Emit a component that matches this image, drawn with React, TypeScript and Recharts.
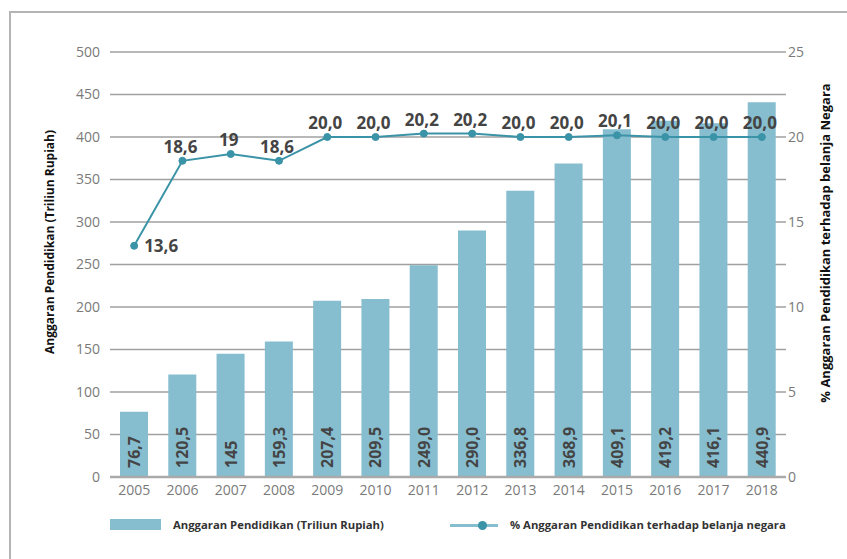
import { Bar, CartesianGrid, ComposedChart, LabelList, Line, XAxis, YAxis } from "recharts";

const years = ["2005", "2006", "2007", "2008", "2009", "2010", "2011", "2012", "2013", "2014", "2015", "2016", "2017", "2018"];
const budget = [76.7, 120.5, 145, 159.3, 207.4, 209.5, 249.0, 290.0, 336.8, 368.9, 409.1, 419.2, 416.1, 440.9];
const budgetLabels = ["76,7", "120,5", "145", "159,3", "207,4", "209,5", "249,0", "290,0", "336,8", "368,9", "409,1", "419,2", "416,1", "440,9"];
const share = [13.6, 18.6, 19, 18.6, 20.0, 20.0, 20.2, 20.2, 20.0, 20.0, 20.1, 20.0, 20.0, 20.0];
const shareLabels = ["13,6", "18,6", "19", "18,6", "20,0", "20,0", "20,2", "20,2", "20,0", "20,0", "20,1", "20,0", "20,0", "20,0"];
const leftTicks = [0, 50, 100, 150, 200, 250, 300, 350, 400, 450, 500];
const rightTicks = [0, 5, 10, 15, 20, 25];

const barName = "Anggaran Pendidikan (Triliun Rupiah)";
const lineName = "% Anggaran Pendidikan terhadap belanja negara";
const leftTitle = "Anggaran Pendidikan (Triliun Rupiah)";
const rightTitle = "% Anggaran Pendidikan terhadap belanja Negara";

const data = years.map((year, i) => ({ year, budget: budget[i], share: share[i] }));

const FONT = "'Open Sans', 'Noto Sans', sans-serif";
const BAR = "#86bdcf";
const LINE = "#3a93a7";
const tick = { fill: "#7a7a7a", fontSize: 14, fontFamily: FONT };

const BarValue = (props: any) => {
  const { x, y, width, height, index } = props;
  const cx = x + width / 2;
  const by = y + height - 9;
  return (
    <text
      x={cx}
      y={by}
      transform={`rotate(-90 ${cx} ${by})`}
      dominantBaseline="central"
      textAnchor="start"
      fill="#444"
      fontSize={16}
      fontWeight={700}
      fontFamily={FONT}
    >
      {budgetLabels[index]}
    </text>
  );
};

const LineValue = (props: any) => {
  const { x, y, index } = props;
  const label = shareLabels[index];
  if (index === 0) {
    return (
      <text x={x + 10} y={y} dominantBaseline="central" fill="#444" fontSize={17} fontWeight={700} fontFamily={FONT}>
        {label}
      </text>
    );
  }
  return (
    <text x={x - 2} y={y - 8} textAnchor="middle" fill="#444" fontSize={17} fontWeight={700} fontFamily={FONT}>
      {label}
    </text>
  );
};

export default function App() {
  return (
    <div style={{ position: "absolute", left: 0, top: 0, width: 847, height: 559, overflow: "hidden", background: "#fff" }}>
      <div style={{ position: "absolute", left: 9, top: 11, width: 900, height: 600, border: "2px solid #b4b4b4" }} />
      <div style={{ position: "absolute", left: 0, top: 0 }}>
        <ComposedChart width={847} height={559} data={data} margin={{ top: 52, right: 21, bottom: 52, left: 50 }}>
          <CartesianGrid yAxisId="left" vertical={false} stroke="#a0a0a0" strokeWidth={1.3} />
          <XAxis
            dataKey="year"
            height={30}
            tick={tick}
            tickLine={false}
            axisLine={{ stroke: "#aaaaaa", strokeWidth: 2.5 }}
            tickSize={0}
            tickMargin={8}
            interval={0}
          />
          <YAxis
            yAxisId="left"
            domain={[0, 500]}
            ticks={leftTicks}
            width={60}
            tick={tick}
            tickLine={false}
            axisLine={false}
            tickSize={0}
            tickMargin={10}
            interval={0}
          />
          <YAxis
            yAxisId="right"
            orientation="right"
            domain={[0, 25]}
            ticks={rightTicks}
            width={40}
            tick={tick}
            tickLine={false}
            axisLine={false}
            tickSize={0}
            tickMargin={2}
            interval={0}
          />
          <Bar yAxisId="left" dataKey="budget" fill={BAR} barSize={28} isAnimationActive={false}>
            <LabelList dataKey="budget" content={<BarValue />} />
          </Bar>
          <Line
            yAxisId="right"
            dataKey="share"
            stroke={LINE}
            strokeWidth={2}
            dot={{ r: 3.5, fill: LINE, stroke: LINE, strokeWidth: 1 }}
            isAnimationActive={false}
          >
            <LabelList dataKey="share" content={<LineValue />} />
          </Line>
        </ComposedChart>
      </div>
      <div
        style={{
          position: "absolute",
          left: 49,
          top: 242,
          transform: "translate(-50%, -50%) rotate(-90deg)",
          whiteSpace: "nowrap",
          fontFamily: FONT,
          fontWeight: 700,
          fontSize: 12,
          color: "#111",
        }}
      >
        {leftTitle}
      </div>
      <div
        style={{
          position: "absolute",
          left: 825,
          top: 243,
          transform: "translate(-50%, -50%) rotate(-90deg)",
          whiteSpace: "nowrap",
          fontFamily: FONT,
          fontWeight: 700,
          fontSize: 13,
          color: "#111",
        }}
      >
        {rightTitle}
      </div>
      <div style={{ position: "absolute", left: 110, top: 519, width: 51, height: 11, background: BAR }} />
      <div style={{ position: "absolute", left: 173, top: 517, fontFamily: FONT, fontWeight: 700, fontSize: 11.3, color: "#333", whiteSpace: "nowrap" }}>
        {barName}
      </div>
      <div style={{ position: "absolute", left: 450, top: 524, width: 48, height: 3, background: BAR }} />
      <div style={{ position: "absolute", left: 478, top: 521, width: 9, height: 9, borderRadius: "50%", background: LINE }} />
      <div style={{ position: "absolute", left: 510, top: 517, fontFamily: FONT, fontWeight: 700, fontSize: 11.3, color: "#333", whiteSpace: "nowrap" }}>
        {lineName}
      </div>
    </div>
  );
}
